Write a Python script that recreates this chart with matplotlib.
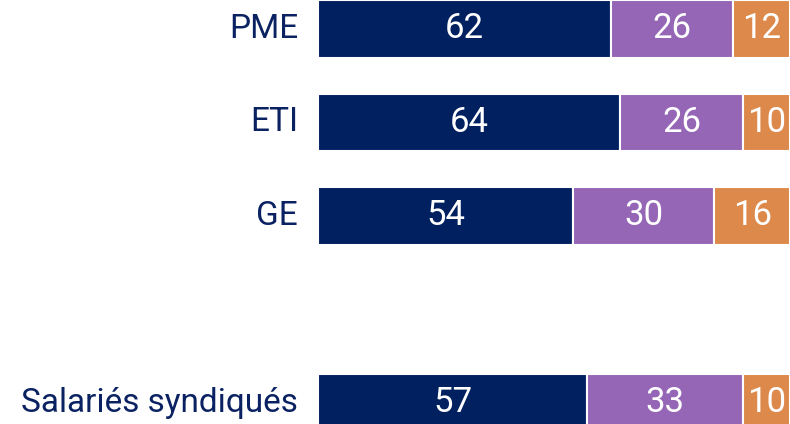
import numpy as np
import matplotlib.pyplot as plt

categories = ['PME', 'ETI', 'GE', 'Salariés syndiqués']
positions = [0, 1, 2, 4]  # empty slot between GE and Salariés syndiqués
part1 = [62, 64, 54, 57]
part2 = [26, 26, 30, 33]
part3 = [12, 10, 16, 10]

colors = ['#002060', '#9566b6', '#dc894b']
label_color = '#0b2262'

fig = plt.figure(figsize=(7.9, 4.24), dpi=100)
fig.patch.set_facecolor('white')
ax = fig.add_axes([318 / 790, 0, 472 / 790, 1])

h = 0.615
left = np.zeros(len(categories))
for vals, col in zip([part1, part2, part3], colors):
    vals = np.array(vals)
    ax.barh(positions, vals, left=left, height=h, color=col,
            edgecolor='white', linewidth=1.5)
    for p, l, v in zip(positions, left, vals):
        ax.text(l + v / 2, p, f'{v}', ha='center', va='center',
                color='white', fontsize=25, family='Roboto')
    left = left + vals

for p, c in zip(positions, categories):
    ax.text(-4.2, p, c, ha='right', va='center', color=label_color,
            fontsize=24, family='Roboto')

ax.set_xlim(0, 100)
ax.set_ylim(-h / 2 + 424 / 93.5, -h / 2)
ax.axis('off')

fig.savefig('out.png', dpi=100)
